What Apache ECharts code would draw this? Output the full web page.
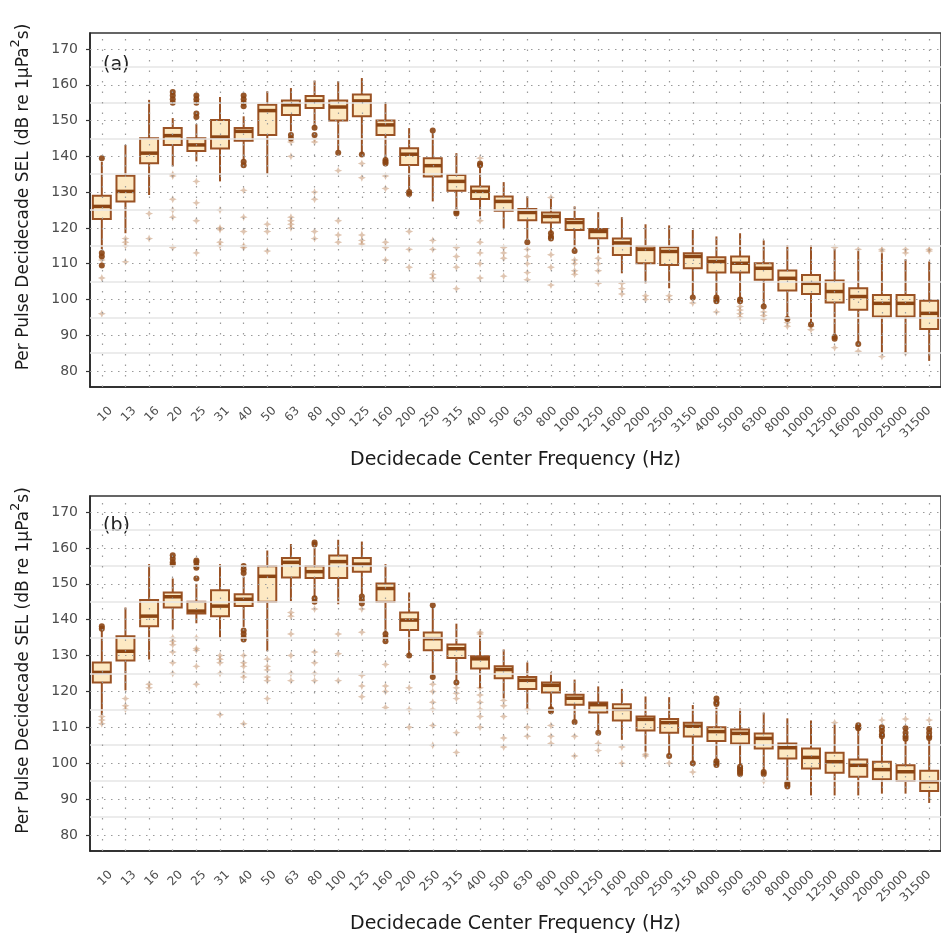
<!DOCTYPE html>
<html lang="en">

<head>
    <meta charset="UTF-8">
    <title>Per pulse decidecade SEL</title>
    <style>
        html, body { margin: 0; padding: 0; background: #fff; }
        #main { width: 941px; height: 941px; }
    </style>
</head>

<body>
    <div id="main"></div>

    <script src="https://cdn.jsdelivr.net/npm/echarts@6/dist/echarts.min.js"></script>
    <script>
        // 中心频率 (Hz)
        var freqLabels = ['10', '13', '16', '20', '25', '31', '40', '50', '63', '80',
            '100', '125', '160', '200', '250', '315', '400', '500', '630', '800',
            '1000', '1250', '1600', '2000', '2500', '3150', '4000', '5000', '6300', '8000',
            '10000', '12500', '16000', '20000', '25000', '31500'];
        var yTicks = [80, 90, 100, 110, 120, 130, 140, 150, 160, 170];
        var yMinor = [85, 95, 105, 115, 125, 135, 145, 155, 165];

        // (a) 箱线图五数
        var lowA = [114, 118.5, 129.2, 137.2, 138.6, 133, 139, 135.1, 147, 148.4,
            141.6, 140.7, 139.5, 130.6, 127.4, 125, 123.2, 119.9, 116.6, 118.5,
            114, 112.9, 107.3, 104.5, 103.1, 101.2, 100.8, 100.3, 98.5, 94.7,
            93.3, 90, 88, 85, 85.1, 82.8];
        var q1A = [122.5, 127.4, 138.1, 143.2, 141.5, 142.2, 144.4, 146, 151.6, 153.5,
            150, 151.2, 146, 137.6, 134.4, 130.4, 128.1, 124.8, 122.1, 121.5,
            119.4, 117.1, 112.4, 110.1, 109.6, 108.7, 107.5, 107.5, 105.5, 102.5,
            101.5, 99.1, 97.1, 95.2, 95.2, 91.7];
        var medA = [126, 130.2, 140.9, 145.8, 143.2, 145.4, 147, 152.8, 154.4, 155.5,
            153.8, 155.5, 148.8, 140.6, 137.4, 133, 130.2, 127.4, 124.3, 123.2,
            121.5, 119, 115.8, 114, 113.4, 112, 110.6, 110.1, 108.7, 105.9,
            104.5, 102.2, 100.8, 98.9, 98.9, 96.1];
        var q3A = [129, 134.6, 145.1, 147.9, 145.1, 150.2, 147.9, 154.4, 155.6, 156.9,
            155.6, 157.3, 150, 142.3, 139.5, 134.8, 131.6, 128.8, 125.3, 124.3,
            122.5, 119.7, 117, 114.8, 114.6, 112.9, 111.8, 112, 110.1, 108.1,
            106.8, 105.3, 103.1, 101.2, 101.2, 99.6];
        var highA = [138.5, 143.2, 155.8, 150.7, 149, 156.6, 151.2, 158.2, 159.1, 161.2,
            161, 161.9, 155.2, 147.9, 146.5, 140.9, 137, 132.8, 128.8, 128.1,
            126, 124.4, 123, 121, 120.7, 119.4, 117.6, 118.5, 116.5, 115.2,
            115.2, 114, 113.5, 112.9, 111.2, 110.6];
        var darkOutA = [[139.5, 113, 112, 109.5], [], [], [158, 157, 156, 155], [157, 156, 155, 152, 151], [], [157, 156, 155, 154, 138.5, 137.5], [], [146, 145], [148, 146],
            [141], [140.5], [139, 138.5, 138], [130, 129.5], [147.2], [124.5, 124], [138, 137.5], [], [116], [118.5, 117.5, 117],
            [113.5], [], [], [], [], [100.5], [100.5, 100, 99.5], [100, 99.5], [98], [94.5],
            [93], [89.5, 89], [87.5], [], [], []];
        var faintOutA = [[111, 106, 96], [117, 116, 115, 110.5], [124, 117], [135, 134.5, 128, 125, 123, 114.5], [133, 127, 122, 113], [125, 120, 119.5, 116, 115], [130.5, 123, 119, 115, 114.5], [121, 119, 113.5], [144, 140, 123, 122, 121, 120], [145, 144, 130, 128, 119, 117],
            [136, 122, 118, 116], [138, 134, 118, 116.5, 115.5], [134.5, 131, 116, 114.5, 111], [119, 114, 109], [116.5, 114, 107, 106], [114.5, 112, 109, 103], [139.5, 122, 116, 113, 110, 106], [114.5, 113, 111.5, 106.5], [114, 112, 110, 107.5, 105.5], [128.5, 112.5, 109, 104],
            [111, 110, 108, 107], [111.5, 110, 108, 104.5], [104.5, 103, 101.5], [101, 100], [101, 100], [99], [96.5], [98, 97, 96, 95], [96.5, 95.5, 94.5], [93.5, 92.5],
            [92.5, 91.5], [114.5, 86.5], [114, 85.5], [114, 113.5, 84], [114, 113, 85], [114, 113.5]];

        // (b) 箱线图五数
        var lowB = [113.5, 120.3, 128.9, 137.3, 139, 135, 138, 131.2, 145.2, 146.2,
            144.3, 147.1, 136.4, 130, 124.4, 123, 120.9, 118.1, 115.3, 115.3,
            112.1, 108.8, 106.5, 103.2, 102.2, 100.4, 100.8, 99.4, 97.6, 94.8,
            91, 91, 91, 91.5, 91.5, 88.9];
        var q1B = [122.5, 128.6, 138.2, 143.4, 141.7, 141, 143.8, 145, 151.8, 151.6,
            151.6, 153.4, 145, 137.1, 131.5, 129.3, 126.4, 123.7, 120.7, 119.7,
            116.3, 114.1, 111.9, 109.1, 108.5, 107.4, 106.2, 105.5, 104.1, 101.3,
            98.5, 97.3, 96.2, 95.5, 95, 92.2];
        var medB = [125.3, 131.2, 141, 146.4, 142.4, 143.8, 145.7, 152.1, 156, 153.4,
            156.2, 155.5, 148.7, 139.9, 134.7, 131.9, 129.1, 126.1, 123.1, 121.7,
            118.1, 116.3, 115, 112.2, 111.3, 110.3, 108.8, 108.3, 106.9, 104.3,
            101.6, 100.4, 99.4, 98.2, 97.6, 94.8];
        var q3B = [128.1, 135.4, 145.5, 147.6, 145, 148.2, 147.1, 154.9, 157.2, 154.9,
            157.9, 157.2, 150.1, 142, 136.4, 133.1, 129.8, 127, 124, 122.5,
            119.1, 116.9, 116.4, 113, 112.3, 111.3, 110, 109.4, 108.3, 105.5,
            104.1, 102.9, 101, 100.4, 99.4, 97.9];
        var highB = [137, 143.4, 155.5, 151.5, 150, 155.5, 152, 159.3, 161.1, 160,
            162.3, 161.8, 155.5, 147.6, 143.5, 138.9, 135.5, 131.7, 128.1, 125.3,
            123.3, 121.4, 120.7, 118.6, 118.4, 116.2, 115.5, 115.2, 114.1, 112.5,
            111.9, 110.7, 109.5, 107, 106.5, 106.5];
        var darkOutB = [[138.2, 137.5], [], [], [158, 157, 156, 155.5], [156.5, 156, 155, 154.5, 151.5], [], [155, 154, 153, 137, 136, 135, 134.5], [], [], [161.5, 161, 146, 145],
            [], [146.5, 145.5, 144.5], [136, 135, 134], [130], [144, 124], [122.5], [], [], [], [115, 114.5],
            [111.5], [108.5], [], [], [102], [100], [118, 117, 116.5, 100.5, 100, 99.5], [99, 98.5, 98, 97.5, 97], [97.5, 97], [94.5, 94, 93.5],
            [], [], [110.6, 110, 109.7], [110, 109, 108, 107.5], [109.7, 108.5, 107.5, 106.8], [109.5, 108.5, 107.5, 107]];
        var faintOutB = [[113, 112, 111], [118, 116, 115], [122, 121], [135, 134, 133, 131, 128, 125], [135, 132, 131.5, 127, 122], [130, 129, 128, 125, 113.5], [130, 128, 127, 125, 124, 111], [129, 127, 126, 124, 123, 118], [142, 141, 136, 130, 125, 123], [143, 131, 128, 125, 123],
            [136, 130.5, 123], [143, 136.5, 124.5, 121.5, 118.5], [127.5, 121.5, 120, 115.5], [121, 115, 110], [122, 120, 117, 115, 110.5, 105], [121, 119.5, 118, 108.5, 103], [136.5, 136, 121, 119, 117, 115, 113, 110], [117.5, 116, 113, 107, 104.5], [115, 110, 107.5], [110.5, 107.5, 105.5],
            [107.5, 102], [105.5, 103.5], [104.5, 100], [102.5, 102], [100], [97.5], [], [], [95], [],
            [], [111.3], [], [112], [112.3], [112]];

        var BROWN = '#9a5224';
        var DARK = '#8B4513';
        var FILL = 'rgba(252, 212, 135, 0.5)';
        var GRAY = '#4d4d4d';
        var STAR = 'path://M0,-10 L3,-3 L10,0 L3,3 L0,10 L-3,3 L-10,0 L-3,-3 Z';

        var grids = [
            { left: 90, top: 33, width: 851, height: 354 },
            { left: 90, top: 496, width: 851, height: 355 }
        ];
        // 刻度文字单独放在右移的隐藏网格里，模仿原图的标签偏移
        var labelGrids = grids.map(function (g) {
            return { left: g.left + 9, top: g.top, width: g.width, height: g.height, show: false };
        });

        function boxRows(low, q1, med, q3, high) {
            return low.map(function (v, i) { return [i, v, q1[i], med[i], q3[i], high[i]]; });
        }

        function outPoints(list) {
            var pts = [];
            list.forEach(function (vals, i) {
                vals.forEach(function (v) { pts.push([freqLabels[i], v]); });
            });
            return pts;
        }

        function renderBox(params, api) {
            var x = api.value(0);
            var pLow = api.coord([x, api.value(1)]);
            var pQ1 = api.coord([x, api.value(2)]);
            var pMed = api.coord([x, api.value(3)]);
            var pQ3 = api.coord([x, api.value(4)]);
            var pHigh = api.coord([x, api.value(5)]);
            var hw = api.size([1, 0])[0] * 0.38;
            var cx = pMed[0];
            return {
                type: 'group',
                children: [
                    { type: 'line', shape: { x1: cx, y1: pLow[1], x2: cx, y2: pQ1[1] }, style: { stroke: BROWN, lineWidth: 2 } },
                    { type: 'line', shape: { x1: cx, y1: pQ3[1], x2: cx, y2: pHigh[1] }, style: { stroke: BROWN, lineWidth: 2 } },
                    { type: 'rect', shape: { x: cx - hw, y: pQ3[1], width: hw * 2, height: pQ1[1] - pQ3[1] }, style: { fill: FILL, stroke: BROWN, lineWidth: 2 } },
                    { type: 'line', shape: { x1: cx - hw, y1: pMed[1], x2: cx + hw, y2: pMed[1] }, style: { stroke: DARK, lineWidth: 3.5 } }
                ]
            };
        }

        function gridLines() {
            var data = [];
            yTicks.forEach(function (v) {
                data.push({ yAxis: v, lineStyle: { color: '#9a9a9a', width: 1.2, type: [1.5, 5.5] } });
            });
            yMinor.forEach(function (v) {
                data.push({ yAxis: v, lineStyle: { color: '#e6e6e6', width: 1.5, type: 'solid' } });
            });
            freqLabels.forEach(function (f) {
                data.push({ xAxis: f, lineStyle: { color: '#9a9a9a', width: 1.2, type: [1.5, 9] } });
            });
            return data;
        }

        var myChart = echarts.init(document.getElementById('main'));
        var panels = [
            { box: boxRows(lowA, q1A, medA, q3A, highA), dark: darkOutA, faint: faintOutA },
            { box: boxRows(lowB, q1B, medB, q3B, highB), dark: darkOutB, faint: faintOutB }
        ];

        var option = {
            animation: false,
            backgroundColor: '#fff',
            grid: grids.map(function (g) {
                return Object.assign({ show: true, borderColor: '#333', borderWidth: 1.5, backgroundColor: 'transparent' }, g);
            }).concat(labelGrids),
            xAxis: grids.map(function (g, i) {
                return {
                    type: 'category',
                    gridIndex: i,
                    data: freqLabels,
                    name: 'Decidecade Center Frequency (Hz)',
                    nameLocation: 'middle',
                    nameGap: 64,
                    nameTextStyle: { fontFamily: 'DejaVu Sans', fontSize: 19, color: '#1a1a1a' },
                    axisLine: { lineStyle: { color: '#222', width: 1.5 } },
                    axisTick: { alignWithLabel: true, length: 4, lineStyle: { color: '#333', width: 1.2 } },
                    axisLabel: { show: false },
                    splitLine: { show: false }
                };
            }).concat(labelGrids.map(function (g, i) {
                return {
                    type: 'category',
                    gridIndex: i + 2,
                    data: freqLabels,
                    axisLine: { show: false },
                    axisTick: { show: false },
                    axisLabel: { interval: 0, rotate: 45, margin: 22, fontFamily: 'DejaVu Sans', fontSize: 12, color: GRAY },
                    splitLine: { show: false }
                };
            })),
            yAxis: grids.map(function (g, i) {
                return {
                    type: 'value',
                    gridIndex: i,
                    min: 75.5,
                    max: 174.5,
                    name: 'Per Pulse Decidecade SEL (dB re 1μPa{sup|2}s)',
                    nameLocation: 'middle',
                    nameGap: 52,
                    nameTextStyle: {
                        fontFamily: 'DejaVu Sans', fontSize: 17, color: '#1a1a1a', padding: [0, 0, 0, 26],
                        rich: { sup: { fontFamily: 'DejaVu Sans', fontSize: 13, color: '#1a1a1a', padding: [0, 0, 16, 0] } }
                    },
                    axisLine: { show: true, lineStyle: { color: '#222', width: 1.5 } },
                    axisTick: { show: true, length: 4, customValues: yTicks, lineStyle: { color: '#333', width: 1.2 } },
                    axisLabel: { customValues: yTicks, margin: 12, fontFamily: 'DejaVu Sans', fontSize: 14, color: GRAY },
                    splitLine: { show: false }
                };
            }).concat(labelGrids.map(function (g, i) {
                return { type: 'value', gridIndex: i + 2, show: false, min: 0, max: 1 };
            })),
            graphic: [
                { type: 'text', left: 103, top: 56, style: { text: '(a)', font: '19px "DejaVu Sans"', fill: '#222' } },
                { type: 'text', left: 103, top: 517, style: { text: '(b)', font: '19px "DejaVu Sans"', fill: '#222' } }
            ],
            series: []
        };

        panels.forEach(function (p, i) {
            option.series.push({
                type: 'scatter', xAxisIndex: i, yAxisIndex: i, data: [], z: 1, silent: true,
                markLine: { silent: true, symbol: 'none', label: { show: false }, animation: false, data: gridLines() }
            });
            option.series.push({
                type: 'custom', xAxisIndex: i, yAxisIndex: i, z: 3, renderItem: renderBox,
                encode: { x: 0, y: [1, 2, 3, 4, 5] }, data: p.box
            });
            option.series.push({
                type: 'scatter', xAxisIndex: i, yAxisIndex: i, z: 2, symbol: STAR, symbolSize: 8,
                itemStyle: { color: 'rgba(176, 110, 60, 0.5)' }, data: outPoints(p.faint)
            });
            option.series.push({
                type: 'scatter', xAxisIndex: i, yAxisIndex: i, z: 4, symbolSize: 6,
                itemStyle: { color: DARK, opacity: 0.9 }, data: outPoints(p.dark)
            });
        });

        myChart.setOption(option);
    </script>
</body>

</html>
